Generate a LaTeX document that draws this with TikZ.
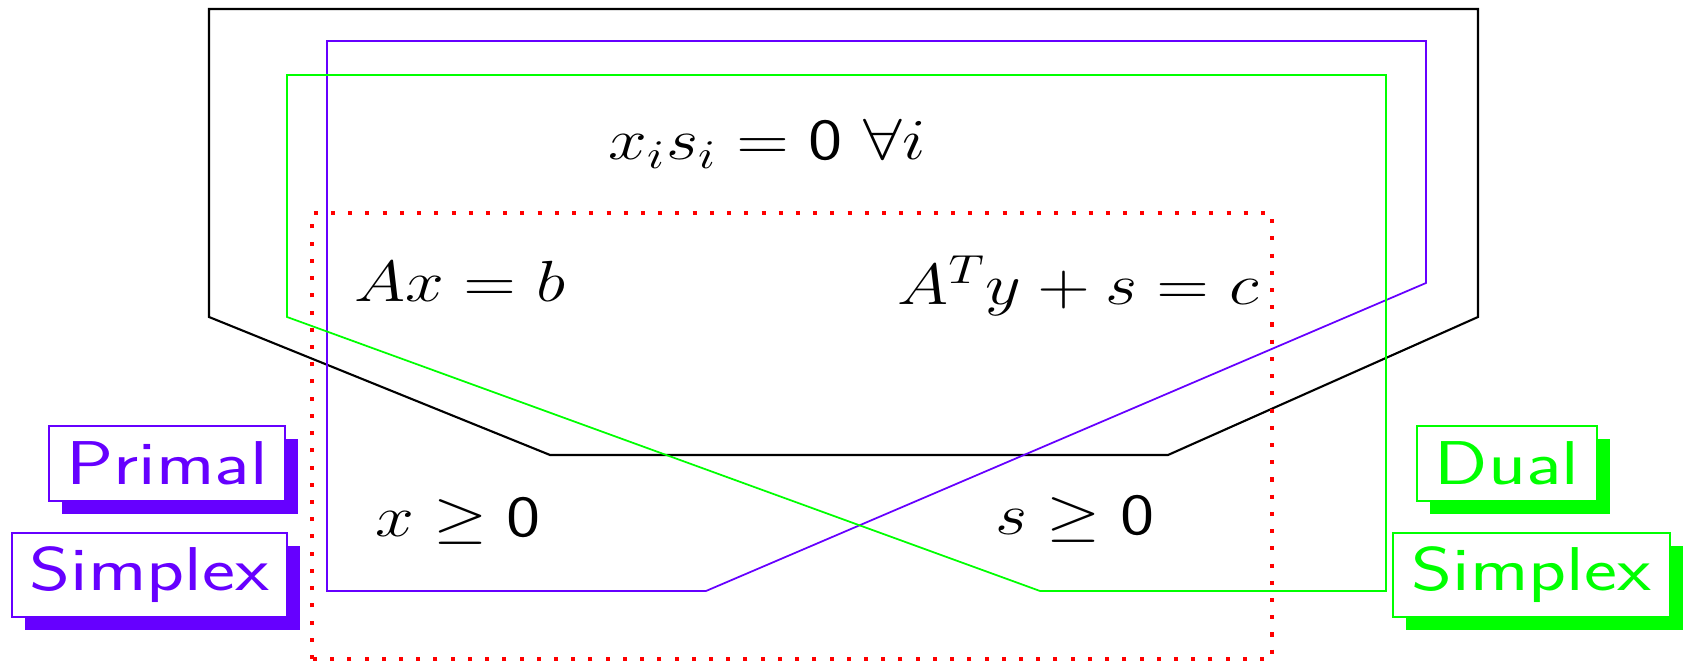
\RequirePackage{fix-cm}
\documentclass[tikz,border=0pt]{standalone}
\usepackage{amsmath,amssymb}
\usepackage{tikz}
\usetikzlibrary{shadows}
\usepackage{xcolor}
\definecolor{primcol}{RGB}{102,0,255}
\definecolor{dualcol}{RGB}{0,255,0}
\newcommand{\wideeq}[1]{\scalebox{1.2}[1]{#1}}
\newcommand{\widetag}[1]{\scalebox{1.27}[1]{#1}}

\begin{document}
\begin{tikzpicture}[
  eq/.style={anchor=base,inner sep=0pt,font=\fontsize{16.5}{20}\selectfont},
  tag/.style={draw=#1,line width=0.6pt,fill=white,text=#1,inner sep=0pt,
    font=\fontsize{17.6}{21}\selectfont\sffamily,
    drop shadow={shadow xshift=0.13cm,shadow yshift=-0.13cm,fill=#1,opacity=1}}]
\useasboundingbox (0,0) rectangle (16.84,6.62);
% complementarity region and the two simplex paths
\draw[black,line width=0.6pt] (2.09,6.53) -- (14.78,6.53) -- (14.78,3.45) -- (11.68,2.07) -- (5.50,2.07) -- (2.09,3.45) -- cycle;
\draw[primcol,line width=0.5pt] (3.27,6.21) -- (14.26,6.21) -- (14.26,3.79) -- (7.06,0.71) -- (3.27,0.71) -- cycle;
\draw[dualcol,line width=0.5pt] (2.87,5.87) -- (13.86,5.87) -- (13.86,0.71) -- (10.40,0.71) -- (2.87,3.45) -- cycle;
\draw[red,line width=1.15pt,dash pattern=on 1.15pt off 3.75pt] (3.12,0.03) rectangle (12.72,4.49);
% conditions
\node[eq] (comp) at (7.67,5.02) {\wideeq{$x_is_i=\mathsf{0}\ \forall i$}};
\node[eq] (pfeas) at (4.60,3.60) {\wideeq{$Ax=b$}};
\node[eq] (dfeas) at (10.78,3.57) {\wideeq{$A^Ty+s=c$}};
\node[eq] (xpos) at (4.58,1.25) {\wideeq{$x\geq\mathsf{0}$}};
\node[eq] (spos) at (10.75,1.27) {\wideeq{$s\geq\mathsf{0}$}};
% method labels
\node[tag=primcol,minimum width=2.36cm,minimum height=0.75cm] (primal) at (1.67,1.985) {\widetag{Primal}};
\node[tag=primcol,minimum width=2.75cm,minimum height=0.84cm] (psimplex) at (1.495,0.87) {\widetag{Simplex}};
\node[tag=dualcol,minimum width=1.80cm,minimum height=0.75cm] (dual) at (15.07,1.985) {\widetag{Dual}};
\node[tag=dualcol,minimum width=2.77cm,minimum height=0.84cm] (dsimplex) at (15.315,0.87) {\widetag{Simplex}};
\end{tikzpicture}
\end{document}
